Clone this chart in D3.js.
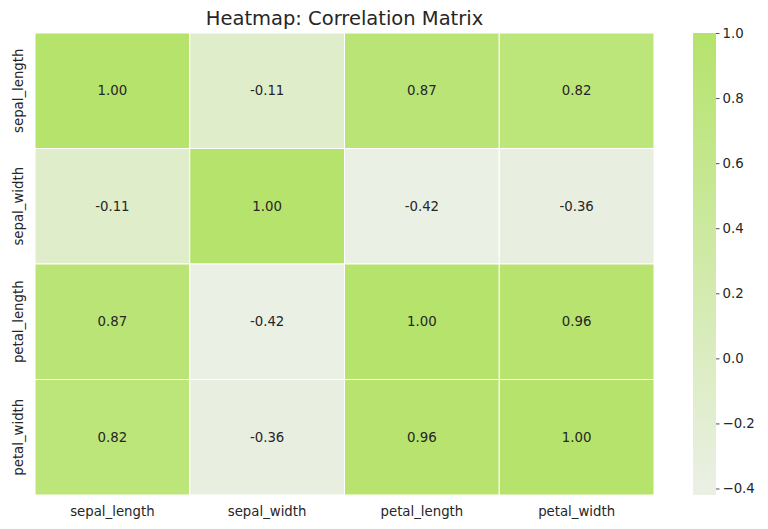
<!DOCTYPE html>
<html><head><meta charset="utf-8">
<script src="https://cdn.jsdelivr.net/npm/d3@7"></script>
<style>body{margin:0;background:#fff}svg{display:block}text{font-family:"DejaVu Sans",sans-serif;fill:#262626}</style>
</head><body><svg id="c" width="768" height="529"></svg>
<script>
const labels = ["sepal_length","sepal_width","petal_length","petal_width"];
const matrix = [
  [1.00,-0.11,0.87,0.82],
  [-0.11,1.00,-0.42,-0.36],
  [0.87,-0.42,1.00,0.96],
  [0.82,-0.36,0.96,1.00]
];
const cbTicks = [-0.4,-0.2,0.0,0.2,0.4,0.6,0.8,1.0];
const title = "Heatmap: Correlation Matrix";

const svg = d3.select("#c");
const L=35, T=33, R=654, B=495;
const x = d3.scaleBand().domain(labels).range([L,R]);
const y = d3.scaleBand().domain(labels).range([T,B]);
const vmin = d3.min(matrix.flat()), vmax = d3.max(matrix.flat());
const color = d3.scaleLinear().domain([vmin,vmax]).range(["#ebf0e5","#b5e36b"]).interpolate(d3.interpolateRgb);

const cells = [];
matrix.forEach((row,i)=>row.forEach((v,j)=>cells.push({r:labels[i],c:labels[j],v})));
svg.append("g").selectAll("rect").data(cells).join("rect")
  .attr("x",d=>x(d.c)).attr("y",d=>y(d.r)).attr("width",x.bandwidth()).attr("height",y.bandwidth())
  .attr("fill",d=>color(d.v)).attr("stroke","#fff").attr("stroke-width",1);
svg.append("g").selectAll("text").data(cells).join("text")
  .attr("x",d=>x(d.c)+x.bandwidth()/2).attr("y",d=>y(d.r)+y.bandwidth()/2)
  .attr("text-anchor","middle").attr("dominant-baseline","central")
  .attr("font-size",13.3).text(d=>d.v.toFixed(2));

// x labels
svg.append("g").selectAll("text").data(labels).join("text")
  .attr("x",d=>x(d)+x.bandwidth()/2).attr("y",B+16).attr("text-anchor","middle")
  .attr("dominant-baseline","central").attr("font-size",13.3).text(d=>d);
// y labels
svg.append("g").selectAll("text").data(labels).join("text")
  .attr("transform",d=>`translate(18,${y(d)+y.bandwidth()/2}) rotate(-90)`)
  .attr("text-anchor","middle").attr("dominant-baseline","central").attr("font-size",13.3).text(d=>d);

svg.append("text").attr("x",(L+R)/2).attr("y",18).attr("text-anchor","middle")
  .attr("dominant-baseline","central").attr("font-size",19.5).text(title);

// colorbar
const cbX=693, cbW=23;
const cy = d3.scaleLinear().domain([vmin,vmax]).range([B,T]);
const defs = svg.append("defs");
const grad = defs.append("linearGradient").attr("id","g").attr("x1",0).attr("y1",1).attr("x2",0).attr("y2",0);
grad.append("stop").attr("offset",0).attr("stop-color",color(vmin));
grad.append("stop").attr("offset",1).attr("stop-color",color(vmax));
svg.append("rect").attr("x",cbX).attr("y",T).attr("width",cbW).attr("height",B-T).attr("fill","url(#g)");
const ax = d3.axisRight(cy).tickValues(cbTicks).tickSize(3.5).tickPadding(3)
  .tickFormat(d=>d3.format(".1f")(d).replace("-","\u2212"));
const g = svg.append("g").attr("transform",`translate(${cbX+cbW},0)`).call(ax);
g.select(".domain").remove();
g.selectAll("line").attr("stroke","#262626").attr("stroke-width",0.8);
g.selectAll("text").attr("font-size",13.3).attr("fill","#262626").style("font-family","DejaVu Sans");
</script></body></html>
